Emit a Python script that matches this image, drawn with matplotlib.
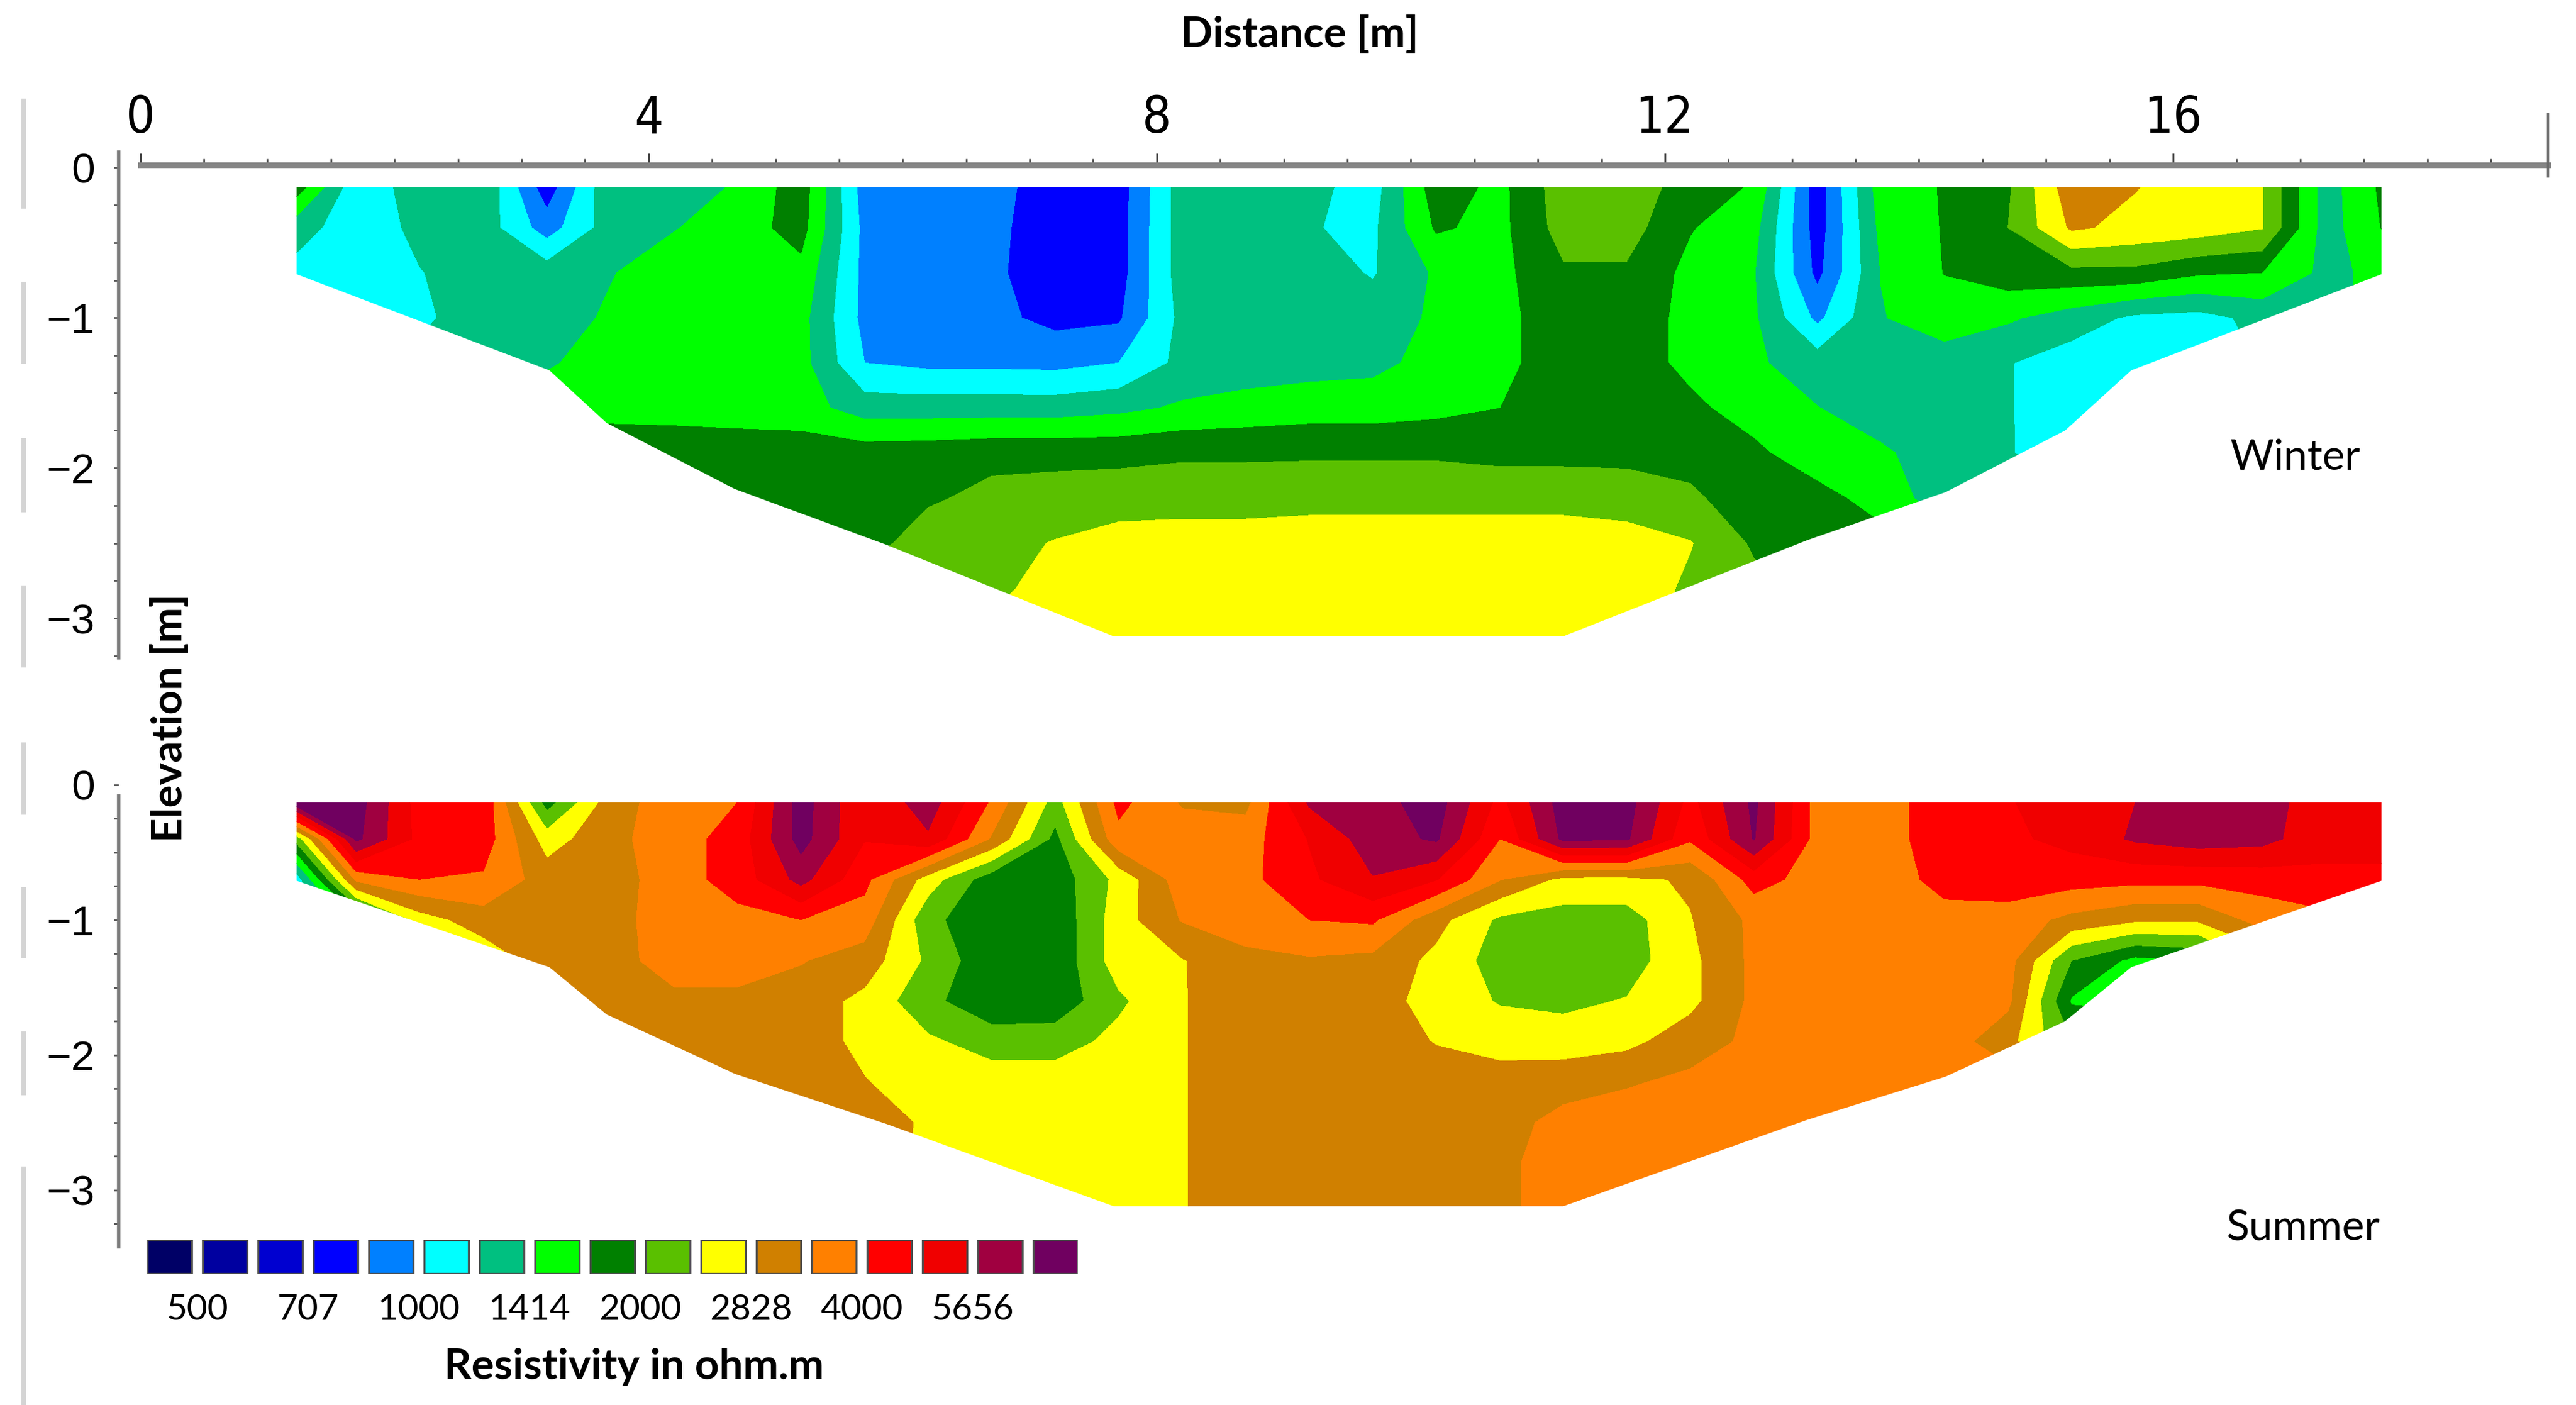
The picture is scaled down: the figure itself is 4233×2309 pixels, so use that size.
import numpy as np
import matplotlib
matplotlib.use("Agg")
import matplotlib.pyplot as plt
from matplotlib.patches import Polygon
from matplotlib.lines import Line2D
from matplotlib import font_manager

W, H, DPI = 4233, 2309, 200
DW, DH = 1560.0, 851.0          # reference frame used for layout


def fx(x):
    return x / DW


def fy(y):
    return 1 - y / DH


def rect(xl, xr, yt, yb):
    return [fx(xl), fy(yb), (xr - xl) / DW, (yb - yt) / DH]


# ---------------- data ----------------
distance = [1.2, 1.7, 2.2, 2.7, 3.2, 3.7, 4.2, 4.7, 5.2, 5.7, 6.2, 6.7, 7.2, 7.7,
            8.2, 8.7, 9.2, 9.7, 10.2, 10.7, 11.2, 11.7, 12.2, 12.7, 13.2, 13.7,
            14.2, 14.7, 15.2, 15.7, 16.2, 16.7, 17.2, 17.7]
elevation = [-0.13, -0.4, -0.7, -1.0, -1.3, -1.6, -1.9, -2.2, -2.5, -2.8, -3.13]

# section outline (data domain)
outline_x = [1.23, 17.64, 17.64, 15.67, 15.15, 14.21, 13.12, 11.2, 7.66, 5.87, 4.68, 3.67, 3.22, 1.23]
outline_y = [-0.13, -0.13, -0.71, -1.35, -1.75, -2.16, -2.48, -3.12, -3.12, -2.51, -2.14, -1.70, -1.35, -0.71]

# resistivity (ohm.m), rows = elevation, columns = distance
winter_rho = [
    [1900, 1050, 1300, 1380, 760, 1380, 1300, 1440, 1850, 920, 920, 900, 760, 770, 1300, 1300, 1250, 1100,
     1850, 1600, 2200, 2200, 1850, 1650, 760, 1550, 1700, 1950, 3150, 2850, 2600, 2400, 1300, 1800],
    [1320, 1050, 1250, 1300, 920, 1300, 1400, 1550, 1800, 950, 920, 880, 760, 780, 1300, 1300, 1200, 1150,
     1720, 1600, 2150, 2150, 1700, 1500, 770, 1480, 1700, 2000, 2900, 2700, 2600, 2400, 1300, 1750],
    [1120, 1050, 1180, 1300, 1300, 1400, 1550, 1550, 1600, 950, 900, 870, 760, 780, 1300, 1300, 1300, 1170,
     1450, 1600, 1950, 1950, 1600, 1430, 800, 1420, 1690, 1850, 1900, 1900, 1720, 1680, 1350, 1500],
    [1090, 1090, 1150, 1300, 1300, 1450, 1550, 1550, 1500, 950, 900, 880, 800, 820, 1250, 1300, 1300, 1300,
     1450, 1600, 1850, 1850, 1600, 1450, 960, 1400, 1550, 1450, 1300, 1150, 1120, 1250, 1350, 1500],
    [1150, 1200, 1250, 1300, 1380, 1550, 1550, 1550, 1500, 1000, 960, 960, 950, 1000, 1250, 1300, 1320, 1350,
     1500, 1600, 1850, 1850, 1600, 1450, 1300, 1300, 1300, 1200, 1090, 1050, 1090, 1200, 1300, 1500],
    [1400, 1450, 1500, 1550, 1580, 1620, 1580, 1550, 1520, 1300, 1300, 1300, 1300, 1350, 1450, 1500, 1550, 1550,
     1600, 1680, 1850, 1850, 1750, 1550, 1420, 1300, 1300, 1200, 1090, 1090, 1100, 1200, 1300, 1500],
    [1700, 1700, 1750, 1800, 1800, 1800, 1850, 1850, 1850, 1830, 1850, 1900, 1900, 1900, 1950, 1950, 1950, 1950,
     1950, 1900, 1900, 1900, 1900, 1750, 1500, 1450, 1300, 1200, 1100, 1100, 1100, 1200, 1300, 1500],
    [1850, 1850, 1850, 1850, 1850, 1850, 1850, 1850, 1850, 1850, 1950, 2100, 2150, 2200, 2200, 2200, 2250, 2250,
     2250, 2250, 2250, 2200, 2050, 1850, 1800, 1550, 1300, 1200, 1200, 1200, 1200, 1200, 1300, 1500],
    [1850, 1850, 1850, 1850, 1850, 1850, 1850, 1850, 1850, 1850, 2200, 2250, 2400, 2550, 2600, 2600, 2600, 2600,
     2600, 2600, 2600, 2550, 2400, 1950, 1850, 1800, 1500, 1300, 1200, 1200, 1200, 1200, 1300, 1500],
    [2200, 2200, 2200, 2200, 2200, 2200, 2200, 2200, 2200, 2200, 2200, 2250, 2600, 2650, 2650, 2650, 2650, 2650,
     2650, 2650, 2650, 2650, 2300, 2100, 1900, 1800, 1500, 1300, 1200, 1200, 1200, 1200, 1300, 1500],
    [2300, 2300, 2300, 2300, 2300, 2300, 2300, 2300, 2300, 2300, 2300, 2500, 2650, 2650, 2650, 2650, 2650, 2650,
     2650, 2650, 2650, 2500, 2300, 2200, 2000, 1800, 1500, 1300, 1200, 1200, 1200, 1200, 1300, 1500],
]

summer_rho = [
    [7200, 7300, 4400, 4600, 1850, 3100, 3700, 4000, 7300, 4800, 6200, 3900, 2200, 4200, 3300, 3200, 5800, 6300,
     7300, 4500, 7300, 7200, 4500, 7000, 3700, 3700, 4400, 4700, 5200, 5650, 6200, 6200, 5000, 5000],
    [2000, 7000, 4500, 4400, 2600, 3200, 3700, 4300, 7200, 4800, 5500, 3300, 1900, 3800, 3700, 3700, 4800, 6200,
     6900, 4000, 7000, 6900, 4100, 6800, 3700, 3700, 4400, 4600, 5000, 5800, 6200, 6000, 5000, 5000],
    [1000, 3500, 4000, 3900, 3100, 3100, 3700, 4300, 6000, 4200, 2600, 1800, 1800, 2500, 3700, 3800, 4600, 5600,
     4800, 3400, 2700, 2700, 2900, 4300, 3700, 3700, 4200, 4400, 4300, 4200, 4200, 4300, 4600, 4600],
    [1000, 1500, 2600, 3100, 3100, 3150, 3700, 3800, 4000, 3700, 2100, 1750, 1750, 2600, 3400, 3700, 4000, 4100,
     3000, 2300, 2200, 2200, 2800, 3500, 3700, 3700, 3800, 3700, 3200, 2900, 2900, 3600, 3800, 4200],
    [1000, 1300, 1800, 2500, 3100, 3100, 3700, 3700, 3400, 3100, 2300, 1750, 1750, 2600, 2800, 3200, 3300, 3200,
     2700, 2200, 2150, 2200, 2700, 3500, 3700, 3700, 3700, 3600, 2000, 1600, 1700, 2500, 3500, 4000],
    [3100, 3100, 3100, 3100, 3100, 3100, 3200, 3200, 3100, 2700, 2100, 1750, 1780, 2300, 2800, 3100, 3100, 3100,
     2600, 2350, 2300, 2400, 2700, 3500, 3700, 3700, 3700, 3500, 1650, 1500, 2000, 3000, 3500, 3800],
    [3100, 3100, 3100, 3100, 3100, 3100, 3100, 3100, 3100, 2700, 2450, 2200, 2200, 2500, 2800, 3100, 3100, 3100,
     2800, 2600, 2550, 2700, 3100, 3500, 3700, 3700, 3700, 3000, 2000, 2500, 3000, 3500, 3800, 4000],
    [3100, 3100, 3100, 3100, 3100, 3100, 3100, 3100, 3100, 2850, 2600, 2600, 2600, 2600, 2800, 3100, 3100, 3100,
     3100, 3100, 3200, 3300, 3500, 3700, 3700, 3700, 3700, 3700, 3700, 3700, 3700, 3700, 3700, 3700],
    [3100, 3100, 3100, 3100, 3100, 3100, 3100, 3100, 3100, 3100, 2750, 2600, 2600, 2600, 2800, 3100, 3100, 3100,
     3100, 3200, 3500, 3700, 3700, 3700, 3700, 3700, 3700, 3700, 3700, 3700, 3700, 3700, 3700, 3700],
    [2900, 2900, 2900, 2900, 2900, 2900, 2900, 2900, 2900, 2900, 2800, 2600, 2600, 2600, 2800, 3100, 3100, 3100,
     3100, 3250, 3600, 3700, 3700, 3700, 3700, 3700, 3700, 3700, 3700, 3700, 3700, 3700, 3700, 3700],
    [2600, 2600, 2600, 2600, 2600, 2600, 2600, 2600, 2600, 2600, 2600, 2600, 2600, 2600, 2800, 3100, 3100, 3100,
     3100, 3250, 3600, 3700, 3700, 3700, 3700, 3700, 3700, 3700, 3700, 3700, 3700, 3700, 3700, 3700],
]

bounds = [500, 595, 707, 841, 1000, 1189, 1414, 1682, 2000, 2378, 2828, 3364, 4000, 4757, 5656, 6727]
colors = ['#000066', '#0000a0', '#0000d0', '#0000ff', '#0080ff', '#00ffff', '#00c080', '#00ff00',
          '#008000', '#5ac000', '#ffff00', '#d08000', '#ff8000', '#ff0000', '#f00000', '#a00040', '#700060']
legend_labels = ['500', '707', '1000', '1414', '2000', '2828', '4000', '5656']
x_ticks = [0, 4, 8, 12, 16]
y_ticks = [0, -1, -2, -3]

# ---------------- fonts ----------------
_fonts = font_manager.fontManager.ttflist
_names = {f.name for f in _fonts}
SANS = ['Lato', 'DejaVu Sans']
TICKF = ['Liberation Sans', 'DejaVu Sans']
if 'Liberation Sans Narrow' in _names:
    NARROW, NARROW_STRETCH = ['Liberation Sans Narrow', 'DejaVu Sans'], 'normal'
elif any(f.name == 'DejaVu Sans' and str(f.stretch) in ('condensed', 'semi-condensed') for f in _fonts):
    NARROW, NARROW_STRETCH = ['DejaVu Sans'], 'condensed'
else:
    NARROW, NARROW_STRETCH = ['Liberation Sans', 'DejaVu Sans'], 'normal'

# ---------------- layout ----------------
X0, PXM = 85.0, 76.94            # x=0 position and pixels per metre
XLIM = (-0.17, 19.05)
AXL = X0 + XLIM[0] * PXM
AXR = X0 + XLIM[1] * PXM

fig = plt.figure(figsize=(W / DPI, H / DPI), dpi=DPI)
fig.patch.set_facecolor('white')

levels = np.log10([1.0] + bounds + [1e6])


def panel(rho, e0, ppm, ytop, ybot, spine_top):
    ylim = ((e0 - ybot) / ppm, (e0 - ytop) / ppm)
    ax = fig.add_axes(rect(AXL, AXR, ytop, ybot))
    ax.set_xlim(XLIM)
    ax.set_ylim(ylim)
    Z = np.log10(np.array(rho, dtype=float))
    cs = ax.contourf(distance, elevation, Z, levels=levels, colors=colors)
    poly = Polygon(np.column_stack([outline_x, outline_y]), closed=True,
                   transform=ax.transData, facecolor='none', edgecolor='none')
    cs.set_clip_path(poly)
    for s in ('top', 'right', 'bottom'):
        ax.spines[s].set_visible(False)
    ax.spines['left'].set_color('#7a7a7a')
    ax.spines['left'].set_linewidth(2.0)
    ax.spines['left'].set_bounds(ylim[0], min(spine_top, ylim[1]))
    ax.set_xticks([])
    ax.set_yticks(y_ticks)
    ax.set_yticklabels(['0' if v == 0 else '\u2212%d' % abs(v) for v in y_ticks])
    ax.set_yticks(np.arange(-3.25, 0.01, 0.25), minor=True)
    ax.tick_params(axis='y', which='both', direction='out', length=3, width=1.0,
                   color='#555555', pad=11, labelsize=25)
    for lab in ax.get_yticklabels():
        lab.set_family(TICKF)
    ax.patch.set_alpha(0)
    return ax


ax_w = panel(winter_rho, 101.5, 91.0, 92.0, 398.5, 0.2)
ax_s = panel(summer_rho, 475.4, 81.8, 473.8, 755.0, -0.08)

# distance axis along the top
ax_d = fig.add_axes(rect(AXL, AXR, 100.0, 110.0))
ax_d.set_xlim(XLIM)
ax_d.set_ylim(0, 1)
ax_d.patch.set_visible(False)
for s in ('left', 'right', 'bottom'):
    ax_d.spines[s].set_visible(False)
ax_d.spines['top'].set_color('#858585')
ax_d.spines['top'].set_linewidth(3.4)
ax_d.spines['top'].set_bounds(0, 18.95)
ax_d.set_yticks([])
ax_d.xaxis.set_ticks_position('top')
ax_d.set_xticks(x_ticks)
ax_d.set_xticklabels([str(v) for v in x_ticks])
ax_d.set_xticks([v for v in np.arange(0.5, 18.6, 0.5) if v % 4 != 0], minor=True)
ax_d.tick_params(axis='x', which='major', direction='out', length=7, width=1.1,
                 color='#4a4a4a', pad=6, labelsize=30, top=True, bottom=False,
                 labeltop=True, labelbottom=False)
ax_d.tick_params(axis='x', which='minor', direction='out', length=3.5, width=1.0,
                 color='#4a4a4a', top=True, bottom=False)
for lab in ax_d.get_xticklabels():
    lab.set_family(NARROW)
    lab.set_stretch(NARROW_STRETCH)
xe = X0 + 18.95 * PXM
fig.add_artist(Line2D([fx(xe), fx(xe)], [fy(69), fy(107)], color='#6a6a6a', lw=1.3))

# faint frame fragments at the far left
for y1, y2 in [(61, 125), (172, 219), (267, 309), (356, 403), (451, 492),
               (539, 579), (626, 662), (708, 851)]:
    fig.add_artist(Line2D([fx(14.5), fx(14.5)], [fy(y1), fy(y2)], color='#d4d4d4', lw=2.8))

# titles
fig.text(fx(787), fy(21), 'Distance [m]', ha='center', va='center', fontsize=25,
         fontweight='bold', family=SANS)
fig.text(fx(103), fy(435), 'Elevation [m]', ha='center', va='center', fontsize=25,
         fontweight='bold', family=SANS, rotation=90)
fig.text(fx(1390), fy(277), 'Winter', ha='center', va='center', fontsize=25, family=SANS)
fig.text(fx(1395), fy(744), 'Summer', ha='center', va='center', fontsize=25, family=SANS)

# legend
ax_l = fig.add_axes(rect(89.3, 652.7, 751.0, 771.4))
ax_l.set_xlim(0.1, 16.9)
ax_l.set_ylim(0, 1)
ax_l.axis('off')
ax_l.bar(np.arange(len(colors)) + 0.5, 1.0, width=0.8, bottom=0, color=colors,
         edgecolor='#4d4d4d', linewidth=1.2)
for i, lab in enumerate(legend_labels):
    ax_l.text(2 * i + 1, -1.08, lab, transform=ax_l.get_xaxis_transform(), ha='center',
              va='center', fontsize=21, family=SANS)
fig.text(fx(384), fy(828), 'Resistivity in ohm.m', ha='center', va='center', fontsize=25,
         fontweight='bold', family=SANS)

fig.savefig('out.png', dpi=DPI, facecolor='white')
